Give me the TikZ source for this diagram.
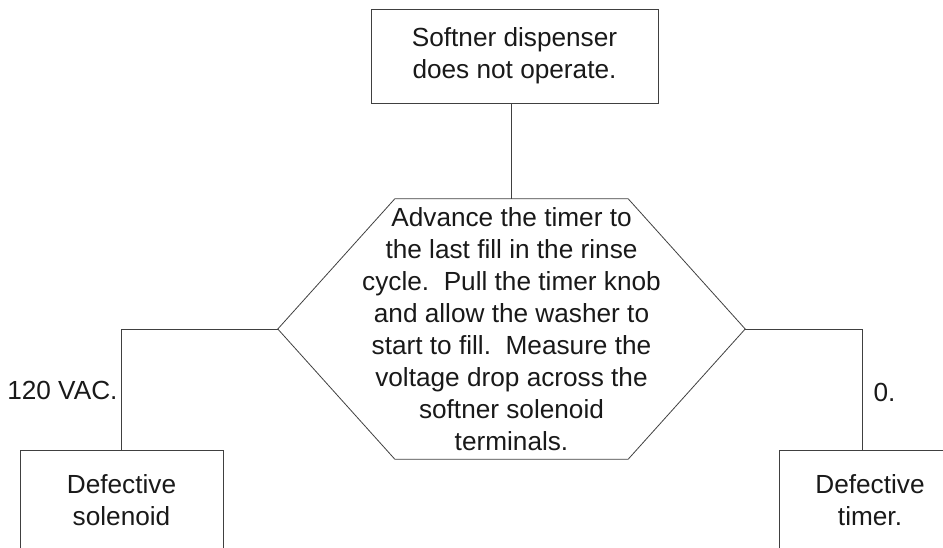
\documentclass[tikz,border=0pt]{standalone}
\usepackage{fontspec}
\setmainfont{Liberation Sans}
\usepackage{tikz}
\usetikzlibrary{positioning}
\tikzstyle{startstop} = [rectangle, minimum width=287pt, minimum height=94pt, align=center, draw=black!75, line width=0.8pt]
\tikzstyle{process} = [rectangle, minimum width=203pt, minimum height=100pt, align=center, draw=black!75, line width=0.8pt]
\tikzstyle{decision} = [minimum width=467pt, minimum height=260pt, inner sep=0pt, align=center]
\tikzstyle{connector} = [draw=black!75, line width=0.8pt]

\begin{document}
\begin{tikzpicture}[x=1pt, y=-1pt, font=\fontsize{26.2}{32}\selectfont, text=black!90]
    \clip (0,0) rectangle (943,548);
    % Define blocks
    \node (issue) [startstop] at (514.5,56) {Softner dispenser\\does not operate.};
    \node (check) [decision] at (511.5,329) {Advance the timer to\\the last fill in the rinse\\cycle.\ \ Pull the timer knob\\and allow the washer to\\start to fill.\ \ Measure the\\voltage drop across the\\softner solenoid\\terminals.};
    \node (solenoid) [process] at (121.5,500) {Defective\\solenoid};
    \node (timer) [process, minimum width=182pt] at (870,500) {Defective\\timer.};
    \node (vac) [anchor=east] at (121,390) {120 VAC.};
    \node (zero) [anchor=west] at (870,392) {0.};

    % Hexagon outline
    \draw [connector] (check.west) -- ([xshift=117pt]check.north west) -- ([xshift=-117pt]check.north east) -- (check.east) -- ([xshift=-117pt]check.south east) -- ([xshift=117pt]check.south west) -- cycle;

    % Draw lines
    \draw [connector] (check.north) -- (check.north |- issue.south);
    \draw [connector] (check.west) -| (solenoid.north);
    \draw [connector] (check.east) -| ([xshift=-8pt]timer.north);
\end{tikzpicture}
\end{document}
